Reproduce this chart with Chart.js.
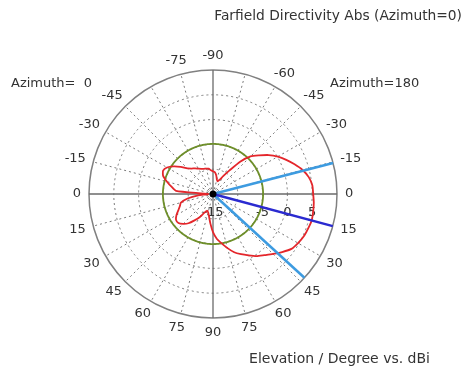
<!DOCTYPE html>
<html>
<head>
<meta charset="utf-8">
<script src="https://cdn.jsdelivr.net/npm/chart.js@4.4.1/dist/chart.umd.min.js"></script>
<style>
  html, body { margin: 0; padding: 0; background: #ffffff; }
  canvas { display: block; }
</style>
</head>
<body>
<canvas id="farfield" width="464" height="370"></canvas>
<script>
// Elevation angles of the cut (degrees)
const elevation = [-90, -85, -80, -75, -70, -65, -60, -55, -50, -45, -40, -35, -30, -25, -20, -15, -10, -5,
                   0, 5, 10, 15, 20, 25, 30, 35, 40, 45, 50, 55, 60, 65, 70, 75, 80, 85, 90];

// Directivity in dBi on the Azimuth=180 half (right side of the plot)
const directivityAz180 = [-10.4, -10.6, -11.2, -12.0, -12.3, -11.8, -10.8, -9.2, -6.5, -4.3, -2.9, -1.3, 0.1, 1.3, 2.5, 3.7, 4.6, 5.1,
                          5.2, 5.4, 5.5, 5.6, 5.4, 5.2, 4.8, 4.3, 3.2, 2.1, 1.1, 0.3, -0.7, -1.6, -2.5, -3.7, -4.9, -5.9, -7.3];

// Directivity in dBi on the Azimuth=0 half (left side of the plot)
const directivityAz0 = [-10.4, -10.2, -9.8, -9.7, -9.6, -9.4, -9.1, -8.7, -8.3, -7.7, -6.5, -5.3, -4.3, -3.9, -4.3, -5.4, -6.5, -7.5,
                        -14.0, -12.0, -9.8, -8.3, -7.9, -7.3, -6.5, -5.9, -5.9, -6.5, -7.3, -8.5, -9.6, -10.8, -11.4, -11.2, -10.4, -9.0, -7.3];

// Main lobe direction and 3 dB beam edges (elevation on the Azimuth=180 side)
const mainLobeElevation = 15;
const beamEdgeElevations = [-14.5, 42.5];
// Side lobe level (dBi)
const sideLobeLevel = -4.9;

// Radial dB scale
const dbMin = -15;
const dbMax = 10;
const dbStep = 5;
const ringLabels = [-15, -5, 0, 5];

// Angular tick labels
const az0TickLabels = [-75, -45, -30, -15, 0, 15, 30, 45, 60, 75];
const az180TickLabels = [-60, -45, -30, -15, 0, 15, 30, 45, 60, 75];
const poleTickLabels = [-90, 90];

// ---- polar sampling: half-degree spokes, index 0 points straight up ----
const SPOKES = 720;
const PER_DEG = SPOKES / 360;
// screen angle in degrees, clockwise from the 3 o'clock direction
function spokeIndex(screenAngle) {
  return Math.round(((((screenAngle - 270) % 360) + 360) % 360) * PER_DEG) % SPOKES;
}
const screenAz180 = el => el;
const screenAz0 = el => 180 - el;

const spokeLabels = Array.from({ length: SPOKES }, (_, i) => i);

const pattern = new Array(SPOKES).fill(null);
elevation.forEach((el, i) => {
  pattern[spokeIndex(screenAz180(el))] = directivityAz180[i];
  pattern[spokeIndex(screenAz0(el))] = directivityAz0[i];
});

const sideLobeRing = new Array(SPOKES).fill(sideLobeLevel);

function radialLine(screenAngle) {
  const d = new Array(SPOKES).fill(null);
  const k = spokeIndex(screenAngle);
  d[k] = dbMax;
  d[(k + 1) % SPOKES] = dbMin;
  return d;
}
const mainLobeLine = radialLine(screenAz180(mainLobeElevation));
const mainLobeCenter = (spokeIndex(screenAz180(mainLobeElevation)) + 1) % SPOKES;

const FONT = '13px "DejaVu Sans", sans-serif';
const TEXT = '#333333';

const textPlugin = {
  id: 'farfieldText',
  beforeDatasetsDraw(chart) {
    const s = chart.scales.r;
    const ctx = chart.ctx;
    ctx.save();
    ctx.font = FONT;
    ctx.fillStyle = TEXT;
    ctx.textAlign = 'center';
    ctx.textBaseline = 'middle';
    ringLabels.forEach(v => {
      const d = s.getDistanceFromCenterForValue(v);
      ctx.fillText(String(v), s.xCenter + d, s.yCenter + 19);
    });
    ctx.restore();
  },
  afterDraw(chart) {
    const s = chart.scales.r;
    const ctx = chart.ctx;
    ctx.save();
    ctx.font = FONT;
    ctx.fillStyle = TEXT;
    ctx.textAlign = 'center';
    ctx.textBaseline = 'middle';
    const put = (screenAngle, text) => {
      const rad = screenAngle * Math.PI / 180;
      const dx = Math.cos(rad), dy = Math.sin(rad);
      const w = ctx.measureText(text).width;
      const p = s.getPointPosition(spokeIndex(screenAngle), s.drawingArea + 8);
      ctx.fillText(text, p.x + dx * w / 2, p.y + dy * 6.5);
    };
    az0TickLabels.forEach(v => put(screenAz0(v), String(v)));
    az180TickLabels.forEach(v => put(screenAz180(v), String(v)));
    poleTickLabels.forEach(v => put(screenAz180(v), String(v)));

    ctx.textAlign = 'left';
    ctx.fillText('Azimuth=  0', 11, 84);
    ctx.fillText('Azimuth=180', 330, 84);
    ctx.textAlign = 'right';
    ctx.font = '13.8px "DejaVu Sans", sans-serif';
    ctx.fillText('Farfield Directivity Abs (Azimuth=0)', 462, 16);
    ctx.font = '14px "DejaVu Sans", sans-serif';
    ctx.fillText('Elevation / Degree vs. dBi', 430, 359);
    ctx.restore();
  }
};

new Chart(document.getElementById('farfield'), {
  type: 'radar',
  data: {
    labels: spokeLabels,
    datasets: [
      {
        label: 'main lobe',
        data: mainLobeLine,
        borderColor: '#2a2ad0',
        borderWidth: 2.5,
        spanGaps: false,
        fill: false,
        tension: 0,
        pointRadius: c => (c.dataIndex === mainLobeCenter ? 3.5 : 0),
        pointBackgroundColor: '#000000',
        pointBorderWidth: 0,
        order: 0
      },
      ...beamEdgeElevations.map(el => ({
        label: 'beam edge',
        data: radialLine(screenAz180(el)),
        borderColor: '#3d9be0',
        borderWidth: 2.5,
        spanGaps: false,
        fill: false,
        tension: 0,
        pointRadius: 0,
        order: 1
      })),
      {
        label: 'directivity',
        data: pattern,
        borderColor: '#e4262b',
        borderWidth: 1.8,
        spanGaps: true,
        fill: false,
        tension: 0.2,
        pointRadius: 0,
        order: 2
      },
      {
        label: 'side lobe level',
        data: sideLobeRing,
        borderColor: '#6e8f2a',
        borderWidth: 1.8,
        fill: false,
        pointRadius: 0,
        order: 3
      }
    ]
  },
  options: {
    responsive: false,
    devicePixelRatio: 1,
    animation: false,
    layout: { padding: { left: 89, top: 70, right: 127, bottom: 52 } },
    plugins: { legend: { display: false }, tooltip: { enabled: false } },
    scales: {
      r: {
        min: dbMin,
        max: dbMax,
        startAngle: 0,
        ticks: { display: false, stepSize: dbStep },
        pointLabels: { display: false },
        grid: {
          circular: true,
          color: c => (c.tick && c.tick.value === dbMax ? '#808080' : '#7a7a7a'),
          lineWidth: c => (c.tick && c.tick.value === dbMax ? 1.5 : 1)
        },
        border: {
          dash: c => (c.tick && c.tick.value === dbMax ? [] : [2, 3])
        },
        angleLines: {
          display: true,
          color: c => (c.index % 180 === 0 ? '#6a6a6a' : '#7a7a7a'),
          lineWidth: c => (c.index % 30 === 0 ? (c.index % 180 === 0 ? 1.3 : 1) : 0),
          borderDash: c => (c.index % 180 === 0 ? [] : [2, 3])
        }
      }
    }
  },
  plugins: [textPlugin]
});
</script>
</body>
</html>
